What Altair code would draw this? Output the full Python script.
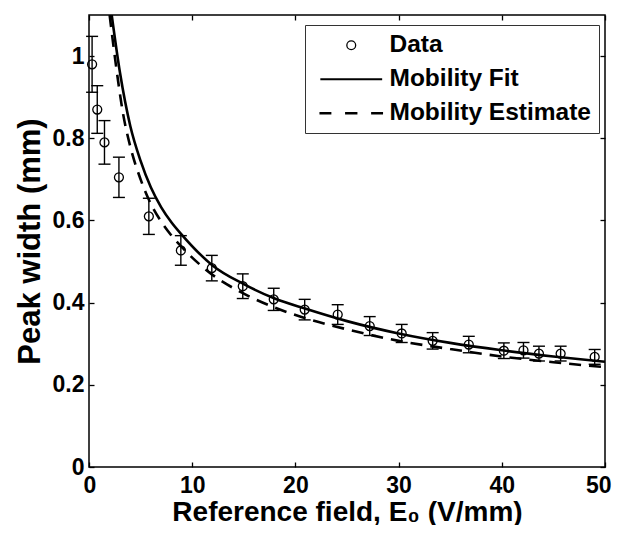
import altair as alt
import pandas as pd

# ---- data ----
field = [0.3, 0.8, 1.5, 2.9, 5.8, 8.9, 11.9, 14.9, 17.9, 20.9, 24.1, 27.2,
         30.3, 33.3, 36.8, 40.2, 42.1, 43.6, 45.7, 49.0]
peak_width = [0.98, 0.87, 0.79, 0.705, 0.61, 0.527, 0.484, 0.44, 0.408, 0.383,
              0.371, 0.343, 0.325, 0.307, 0.298, 0.283, 0.284, 0.276, 0.276, 0.268]
err = [0.068, 0.058, 0.053, 0.049, 0.044, 0.036, 0.031, 0.030, 0.027, 0.025,
       0.024, 0.023, 0.022, 0.020, 0.020, 0.019, 0.019, 0.018, 0.018, 0.018]

fit_x = [2.2, 3.0, 4.0, 5.0, 6.0, 7.0, 8.0, 9, 12, 15, 18, 21, 25, 30, 35, 40, 45, 50]
fit_y = [1.10, 0.96, 0.83, 0.745, 0.68, 0.632, 0.595, 0.565, 0.49, 0.445, 0.41,
         0.385, 0.355, 0.325, 0.302, 0.284, 0.269, 0.256]
est_x = [2.0, 2.6, 3.3, 4.0, 5.0, 6.0, 7.0, 8.0, 9, 12, 15, 18, 21, 25, 30, 35, 40, 45, 50]
est_y = [1.10, 0.98, 0.86, 0.78, 0.70, 0.64, 0.597, 0.563, 0.535, 0.467, 0.422,
         0.388, 0.362, 0.335, 0.307, 0.287, 0.269, 0.255, 0.243]

series_names = ["Data", "Mobility Fit", "Mobility Estimate"]
x_ticks = [0, 10, 20, 30, 40, 50]
y_ticks = [0, 0.2, 0.4, 0.6, 0.8, 1.0]

FONT = "Liberation Sans"

pts = pd.DataFrame({
    "E": field,
    "w": peak_width,
    "lo": [v - e for v, e in zip(peak_width, err)],
    "hi": [v + e for v, e in zip(peak_width, err)],
    "series": series_names[0],
})
fit = pd.DataFrame({"E": fit_x, "w": fit_y})
est = pd.DataFrame({"E": est_x, "w": est_y})

xscale = alt.Scale(domain=[0, 50], nice=False, zero=False)
yscale = alt.Scale(domain=[0, 1.1], nice=False, zero=False)

common_axis = dict(
    offset=-5, tickSize=5, domain=False, grid=False, tickColor="black",
    tickWidth=1.3, labelFont=FONT, labelFontSize=23, labelFontWeight="bold",
    labelColor="black", titleFont=FONT, titleFontWeight="bold", titleColor="black",
)

x_axis = alt.Axis(values=x_ticks, labelPadding=7, title="Reference field, E\u2080 (V/mm)",
                  titleFontSize=28, titlePadding=1, labelFlush=True, labelFlushOffset=6,
                  **common_axis)
y_axis = alt.Axis(values=y_ticks, labelPadding=5, title="Peak width (mm)",
                  titleFontSize=31, titlePadding=6, format="~g", **common_axis)
x_top = alt.Axis(values=x_ticks, orient="top", labels=False, title=None,
                 offset=-5, tickSize=5, domain=False, grid=False, tickColor="black", tickWidth=1.3)
y_right = alt.Axis(values=y_ticks, orient="right", labels=False, title=None,
                   offset=-5, tickSize=5, domain=False, grid=False, tickColor="black", tickWidth=1.3)

line_path = "M-7,0L7,0"
dash_path = "M-7.2,0L-4.5,0M-1.4,0L1.4,0M4.5,0L7.2,0"

points = alt.Chart(pts).mark_point(filled=False, color="black", size=80, opacity=1).encode(
    x=alt.X("E:Q", scale=xscale, axis=x_axis),
    y=alt.Y("w:Q", scale=yscale, axis=y_axis),
    shape=alt.Shape("series:N",
                    scale=alt.Scale(domain=series_names, range=["circle", line_path, dash_path]),
                    legend=alt.Legend(title=None)),
    strokeWidth=alt.StrokeWidth("series:N",
                                scale=alt.Scale(domain=series_names, range=[1.3, 2.6, 2.6]),
                                legend=alt.Legend(title=None)),
)

bars = alt.Chart(pts).mark_rule(color="black", strokeWidth=1.4).encode(
    x=alt.X("E:Q", scale=xscale, axis=None),
    y=alt.Y("lo:Q", scale=yscale, axis=None),
    y2="hi:Q",
)
cap_lo = alt.Chart(pts).mark_tick(color="black", orient="horizontal", size=12, thickness=1.4, opacity=1).encode(
    x=alt.X("E:Q", scale=xscale, axis=None),
    y=alt.Y("lo:Q", scale=yscale, axis=None),
)
cap_hi = alt.Chart(pts).mark_tick(color="black", orient="horizontal", size=12, thickness=1.4, opacity=1).encode(
    x=alt.X("E:Q", scale=xscale, axis=None),
    y=alt.Y("hi:Q", scale=yscale, axis=None),
)

fit_line = alt.Chart(fit).mark_line(color="black", strokeWidth=2.6, interpolate="monotone", clip=True).encode(
    x=alt.X("E:Q", scale=xscale, axis=x_top),
    y=alt.Y("w:Q", scale=yscale, axis=y_right),
)
est_line = alt.Chart(est).mark_line(color="black", strokeWidth=2.6, strokeDash=[12, 8],
                                    interpolate="monotone", clip=True).encode(
    x=alt.X("E:Q", scale=xscale, axis=None),
    y=alt.Y("w:Q", scale=yscale, axis=None),
)

chart = alt.layer(fit_line, est_line, bars, cap_lo, cap_hi, points).resolve_axis(
    x="independent", y="independent"
).properties(
    width=516, height=452,
    autosize=alt.AutoSizeParams(type="none"),
    padding={"left": 81, "top": 7, "right": 7, "bottom": 58},
).configure_view(
    stroke="black", strokeWidth=1.5
).configure_legend(
    orient="none", legendX=216, legendY=10,
    strokeColor="#333333", strokeWidth=1, fillColor="white",
    padding=8, rowPadding=9,
    labelFont=FONT, labelFontSize=24.5, labelFontWeight="bold", labelColor="black",
    labelLimit=0,
    symbolSize=78, symbolStrokeColor="black", symbolFillColor="transparent",
    symbolOffset=26, labelOffset=26,
)

chart.save("out.html", embed_options={"renderer": "svg", "actions": False})
